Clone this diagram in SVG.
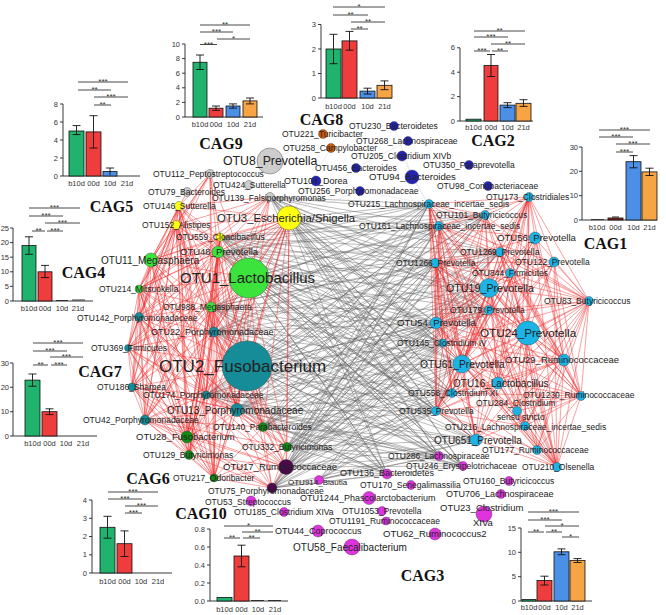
<svg xmlns="http://www.w3.org/2000/svg" width="666" height="615" viewBox="0 0 666 615">
<style>
.eg{fill:none;stroke:#626262;stroke-opacity:.55;stroke-width:.8;stroke-linecap:round}
.er{fill:none;stroke:#ee2626;stroke-opacity:.55;stroke-width:.8;stroke-linecap:round}
.el{fill:none;stroke:#9a9a9a;stroke-opacity:.35;stroke-width:.5}
circle{stroke:#3a3a3a;stroke-width:.4}
.c1{fill:#1cb4e6}.c2{fill:#2323b8}.c3{fill:#e033e0}.c4{fill:#3de33d}.c5{fill:#ffff10}
.c6{fill:#0f8c12}.c7{fill:#158c98}.c8{fill:#cc5a08}.c9{fill:#cdcdcd}.c10{fill:#4b0b4b}
text{font-family:"Liberation Sans",Arial,sans-serif;fill:#222}
.t{font-size:8.5px}
.ttl{font-family:"Liberation Serif","Times New Roman",serif;font-weight:bold;font-size:16px;fill:#111;text-anchor:middle}
.ax{fill:none;stroke:#222;stroke-width:.9}
.tk{font-size:7.5px;text-anchor:end;fill:#333}
.xl{font-size:7.5px;text-anchor:middle;fill:#333}
.st{font-size:8px;text-anchor:middle;fill:#333}
.sl{fill:none;stroke:#333;stroke-width:.9}
.eb{fill:none;stroke:#111;stroke-width:.9}
.bg{fill:#20b36e;stroke:#111;stroke-width:.8}
.br{fill:#ef3d3d;stroke:#111;stroke-width:.8}
.bb{fill:#4b8fe6;stroke:#111;stroke-width:.8}
.bo{fill:#f7a444;stroke:#111;stroke-width:.8}
</style>
<rect width="666" height="615" fill="#fff"/>
<g id="connectors">
<path class="el" d="M316 181L289 218M360 191L289 218M356 168L289 218M360 191L429 204M412 177L429 204M402 156L439 226M331 148L289 218M323 134L270 161M394 126L412 177M408 141L356 168"/>
<path class="eg" d="M289 218L429 204M289 218L439 226M289 218L485 215M289 218L435 263M289 218L500 252M289 218L436 323M289 218L443 343M289 218L462 364M289 218L452 393M289 218L436 411M289 218L476 440M289 218L489 288M289 218L489 310M289 218L439 456M289 218L463 466M289 218L387 474"/>
<path class="eg" d="M270 197L429 204M270 197L439 226M270 197L485 215M270 197L435 263M270 197L500 252M270 197L436 323M270 197L443 343M270 197L462 364M270 197L452 393M270 197L436 411M270 197L476 440M270 197L489 288M270 197L489 310M270 197L439 456M270 197L463 466M270 197L387 474"/>
<path class="eg" d="M249 278L429 204M249 278L439 226M249 278L485 215M249 278L435 263M249 278L500 252M249 278L436 323M249 278L443 343M249 278L462 364M249 278L452 393M249 278L436 411M249 278L476 440M249 278L489 288M249 278L489 310M249 278L439 456M249 278L463 466M249 278L387 474"/>
<path class="eg" d="M218 252L429 204M218 252L439 226M218 252L485 215M218 252L435 263M218 252L500 252M218 252L436 323M218 252L443 343M218 252L462 364M218 252L452 393M218 252L436 411M218 252L476 440M218 252L489 288M218 252L489 310M218 252L439 456M218 252L463 466M218 252L387 474"/>
<path class="eg" d="M220 237L429 204M220 237L439 226M220 237L485 215M220 237L435 263M220 237L500 252M220 237L436 323M220 237L443 343M220 237L462 364M220 237L452 393M220 237L436 411M220 237L476 440M220 237L489 288M220 237L489 310M220 237L439 456M220 237L463 466M220 237L387 474"/>
<path class="eg" d="M211 307L429 204M211 307L439 226M211 307L485 215M211 307L435 263M211 307L500 252M211 307L436 323M211 307L443 343M211 307L462 364M211 307L452 393M211 307L436 411M211 307L476 440M211 307L489 288M211 307L489 310M211 307L439 456M211 307L463 466M211 307L387 474"/>
<path class="eg" d="M214 332L429 204M214 332L439 226M214 332L485 215M214 332L435 263M214 332L500 252M214 332L436 323M214 332L443 343M214 332L462 364M214 332L452 393M214 332L436 411M214 332L476 440M214 332L489 288M214 332L489 310M214 332L439 456M214 332L463 466M214 332L387 474"/>
<path class="eg" d="M247 366L429 204M247 366L439 226M247 366L485 215M247 366L435 263M247 366L500 252M247 366L436 323M247 366L443 343M247 366L462 364M247 366L452 393M247 366L436 411M247 366L476 440M247 366L489 288M247 366L489 310M247 366L439 456M247 366L463 466M247 366L387 474"/>
<path class="eg" d="M206 395L429 204M206 395L439 226M206 395L485 215M206 395L435 263M206 395L500 252M206 395L436 323M206 395L443 343M206 395L462 364M206 395L452 393M206 395L436 411M206 395L476 440M206 395L489 288M206 395L489 310M206 395L439 456M206 395L463 466M206 395L387 474"/>
<path class="eg" d="M237 410L429 204M237 410L439 226M237 410L485 215M237 410L435 263M237 410L500 252M237 410L436 323M237 410L443 343M237 410L462 364M237 410L452 393M237 410L436 411M237 410L476 440M237 410L489 288M237 410L489 310M237 410L439 456M237 410L463 466M237 410L387 474"/>
<path class="eg" d="M263 427L429 204M263 427L439 226M263 427L485 215M263 427L435 263M263 427L500 252M263 427L436 323M263 427L443 343M263 427L462 364M263 427L452 393M263 427L436 411M263 427L476 440M263 427L489 288M263 427L489 310M263 427L439 456M263 427L463 466M263 427L387 474"/>
<path class="eg" d="M287 447L429 204M287 447L439 226M287 447L485 215M287 447L435 263M287 447L500 252M287 447L436 323M287 447L443 343M287 447L462 364M287 447L452 393M287 447L436 411M287 447L476 440M287 447L489 288M287 447L489 310M287 447L439 456M287 447L463 466M287 447L387 474"/>
<path class="eg" d="M286 467L429 204M286 467L439 226M286 467L485 215M286 467L435 263M286 467L500 252M286 467L436 323M286 467L443 343M286 467L462 364M286 467L452 393M286 467L436 411M286 467L476 440M286 467L489 288M286 467L489 310M286 467L439 456M286 467L463 466M286 467L387 474"/>
<path class="eg" d="M272 488L429 204M272 488L439 226M272 488L485 215M272 488L435 263M272 488L500 252M272 488L436 323M272 488L443 343M272 488L462 364M272 488L452 393M272 488L436 411M272 488L476 440M272 488L489 288M272 488L489 310M272 488L439 456M272 488L463 466M272 488L387 474"/>
<path class="eg" d="M319 480L436 411M319 480L452 393M319 480L462 364M319 480L476 440M319 480L443 343M319 480L436 323M319 480L439 456"/>
<path class="er" d="M289 218L179 206M289 218L176 225M289 218L220 237M289 218L218 252M289 218L151 260M289 218L249 278M289 218L139 289M289 218L211 307M289 218L139 317M289 218L214 332M289 218L128 348M289 218L247 366M289 218L132 387M289 218L206 395M289 218L237 410M289 218L145 420M289 218L263 427M289 218L187 437M289 218L287 447M289 218L189 455M289 218L214 478M289 218L286 467"/>
<path class="er" d="M249 278L179 206M249 278L176 225M249 278L220 237M249 278L218 252M249 278L151 260M249 278L139 289M249 278L211 307M249 278L139 317M249 278L214 332M249 278L128 348M249 278L247 366M249 278L132 387M249 278L206 395M249 278L237 410M249 278L145 420M249 278L263 427M249 278L187 437M249 278L287 447M249 278L189 455M249 278L214 478M249 278L270 197M249 278L210 174"/>
<path class="er" d="M247 366L179 206M247 366L176 225M247 366L220 237M247 366L218 252M247 366L151 260M247 366L139 289M247 366L211 307M247 366L139 317M247 366L214 332M247 366L128 348M247 366L132 387M247 366L206 395M247 366L237 410M247 366L145 420M247 366L263 427M247 366L187 437M247 366L287 447M247 366L189 455M247 366L214 478M247 366L286 467M247 366L272 488"/>
<path class="er" d="M151 260L179 206M151 260L176 225M151 260L220 237M151 260L218 252M151 260L139 289M151 260L211 307M151 260L139 317M151 260L214 332M151 260L128 348M151 260L132 387M151 260L206 395M151 260L237 410M151 260L145 420M151 260L187 437M151 260L189 455M151 260L214 478M151 260L210 174M151 260L187 192"/>
<path class="er" d="M179 206L176 225M179 206L220 237M179 206L218 252M179 206L139 289M179 206L211 307M179 206L139 317M179 206L214 332M179 206L128 348M179 206L132 387M179 206L206 395M179 206L237 410M179 206L145 420M179 206L187 437M179 206L189 455M179 206L214 478"/>
<path class="er" d="M176 225L220 237M176 225L218 252M176 225L139 289M176 225L211 307M176 225L139 317M176 225L214 332M176 225L128 348M176 225L132 387M176 225L206 395M176 225L237 410M176 225L145 420M176 225L187 437M176 225L189 455M176 225L214 478"/>
<path class="er" d="M218 252L220 237M218 252L139 289M218 252L211 307M218 252L139 317M218 252L214 332M218 252L128 348M218 252L132 387M218 252L206 395M218 252L237 410M218 252L145 420M218 252L263 427M218 252L187 437M218 252L189 455M218 252L214 478M218 252L270 197"/>
<path class="er" d="M220 237L139 289M220 237L211 307M220 237L139 317M220 237L214 332M220 237L128 348M220 237L132 387M220 237L206 395M220 237L237 410M220 237L145 420M220 237L187 437M220 237L189 455M220 237L214 478"/>
<path class="er" d="M139 289L211 307M139 289L139 317M139 289L214 332M139 289L128 348M139 289L132 387M139 289L206 395M139 289L237 410M139 289L145 420M139 289L187 437M139 289L189 455M139 289L214 478"/>
<path class="er" d="M139 317L211 307M139 317L214 332M139 317L128 348M139 317L132 387M139 317L206 395M139 317L237 410M139 317L145 420M139 317L187 437M139 317L189 455M139 317L214 478M139 317L263 427M139 317L287 447"/>
<path class="er" d="M214 332L211 307M214 332L128 348M214 332L132 387M214 332L206 395M214 332L237 410M214 332L145 420M214 332L263 427M214 332L187 437M214 332L287 447M214 332L189 455M214 332L214 478M214 332L286 467"/>
<path class="er" d="M211 307L128 348M211 307L132 387M211 307L206 395M211 307L237 410M211 307L145 420M211 307L263 427M211 307L187 437M211 307L287 447M211 307L189 455M211 307L214 478"/>
<path class="er" d="M128 348L132 387M128 348L206 395M128 348L237 410M128 348L145 420M128 348L187 437M128 348L189 455M128 348L214 478M132 387L206 395M132 387L237 410M132 387L145 420M132 387L187 437M132 387L189 455M132 387L214 478"/>
<path class="er" d="M145 420L206 395M145 420L237 410M145 420L187 437M145 420L189 455M145 420L214 478M145 420L263 427M145 420L287 447M145 420L286 467M145 420L272 488"/>
<path class="er" d="M214 478L206 395M214 478L237 410M214 478L263 427M214 478L187 437M214 478L287 447M214 478L189 455M214 478L286 467M214 478L272 488"/>
<path class="er" d="M270 197L179 206M270 197L176 225M270 197L220 237M270 197L151 260M270 197L139 289M270 197L211 307M270 197L214 332M270 197L237 410M210 174L179 206M210 174L176 225M210 174L220 237M210 174L218 252M210 174L139 289M210 174L211 307M210 174L139 317M210 174L214 332"/>
<path class="er" d="M286 467L206 395M286 467L237 410M286 467L263 427M286 467L187 437M286 467L189 455M286 467L287 447M286 467L272 488M286 467L132 387M286 467L128 348M272 488L206 395M272 488L237 410M272 488L263 427M272 488L187 437M272 488L189 455M272 488L287 447M272 488L132 387"/>
<path class="er" d="M237 410L206 395M237 410L263 427M237 410L187 437M237 410L287 447M237 410L189 455M237 410L132 387M206 395L263 427M206 395L187 437M206 395L287 447M206 395L189 455"/>
<path class="er" d="M589 301L529 197M589 301L485 215M589 301L535 238M589 301L500 252M589 301L435 263M589 301L554 262M589 301L510 273M589 301L489 288M589 301L489 310M589 301L436 323M589 301L528 333M589 301L443 343M589 301L462 364M589 301L564 360M589 301L498 383M589 301L452 393M589 301L581 396M589 301L517 411M589 301L525 426M589 301L476 440M589 301L537 450M589 301L557 467M589 301L439 226M589 301L429 204"/>
<path class="er" d="M529 197L429 204M529 197L485 215M529 197L439 226M529 197L535 238M529 197L500 252M529 197L435 263M529 197L554 262M529 197L510 273M529 197L489 288M529 197L489 310M529 197L436 323M529 197L528 333M529 197L443 343M529 197L462 364M529 197L564 360M529 197L498 383M529 197L452 393M529 197L436 411M529 197L517 411M529 197L525 426M529 197L476 440"/>
<path class="er" d="M557 467L485 215M557 467L439 226M557 467L535 238M557 467L500 252M557 467L435 263M557 467L554 262M557 467L510 273M557 467L489 288M557 467L489 310M557 467L436 323M557 467L528 333M557 467L443 343M557 467L462 364M557 467L564 360M557 467L498 383M557 467L452 393M557 467L581 396M557 467L517 411M557 467L436 411M557 467L525 426M557 467L476 440M557 467L537 450"/>
<path class="er" d="M528 333L429 204M528 333L485 215M528 333L439 226M528 333L535 238M528 333L500 252M528 333L435 263M528 333L554 262M528 333L510 273M528 333L489 288M528 333L489 310M528 333L436 323M528 333L443 343M528 333L462 364M528 333L564 360M528 333L498 383M528 333L452 393M528 333L581 396M528 333L517 411M528 333L436 411M528 333L525 426M528 333L476 440M528 333L537 450"/>
<path class="er" d="M489 288L429 204M489 288L485 215M489 288L439 226M489 288L535 238M489 288L500 252M489 288L435 263M489 288L554 262M489 288L510 273M489 288L489 310M489 288L436 323M489 288L443 343M489 288L462 364M489 288L564 360M489 288L498 383M489 288L452 393M489 288L581 396M489 288L517 411M489 288L436 411M489 288L525 426M489 288L476 440M489 288L537 450"/>
<path class="er" d="M462 364L429 204M462 364L485 215M462 364L439 226M462 364L535 238M462 364L500 252M462 364L435 263M462 364L554 262M462 364L510 273M462 364L489 310M462 364L436 323M462 364L443 343M462 364L564 360M462 364L498 383M462 364L452 393M462 364L581 396M462 364L517 411M462 364L436 411M462 364L525 426M462 364L476 440M462 364L537 450"/>
<path class="er" d="M564 360L485 215M564 360L439 226M564 360L535 238M564 360L500 252M564 360L435 263M564 360L554 262M564 360L510 273M564 360L489 310M564 360L436 323M564 360L443 343M564 360L498 383M564 360L452 393M564 360L581 396M564 360L517 411M564 360L436 411M564 360L525 426M564 360L476 440M564 360L537 450"/>
<path class="er" d="M435 263L429 204M435 263L485 215M435 263L439 226M435 263L535 238M435 263L500 252M435 263L554 262M435 263L510 273M435 263L489 310M435 263L436 323M435 263L443 343M435 263L498 383M435 263L452 393M435 263L436 411M435 263L525 426M435 263L476 440M435 263L581 396"/>
<path class="er" d="M436 323L429 204M436 323L485 215M436 323L439 226M436 323L535 238M436 323L500 252M436 323L554 262M436 323L510 273M436 323L489 310M436 323L443 343M436 323L498 383M436 323L452 393M436 323L436 411M436 323L525 426M436 323L476 440M436 323L581 396M436 323L537 450"/>
<path class="er" d="M429 204L439 226M429 204L485 215M429 204L535 238M429 204L443 343M429 204L436 411M429 204L452 393M429 204L498 383M429 204L476 440M429 204L525 426M439 226L485 215M439 226L535 238M439 226L500 252M439 226L554 262M439 226L443 343M439 226L436 411M439 226L452 393M439 226L498 383M439 226L476 440"/>
<path class="er" d="M581 396L535 238M581 396L554 262M581 396L485 215M581 396L500 252M581 396L510 273M581 396L489 310M581 396L498 383M581 396L452 393M581 396L517 411M581 396L436 411M581 396L525 426M581 396L476 440M581 396L537 450"/>
<path class="er" d="M498 383L535 238M498 383L554 262M498 383L485 215M498 383L510 273M498 383L452 393M498 383L436 411M498 383L476 440M498 383L537 450M498 383L525 426M436 411L485 215M436 411L535 238M436 411L554 262M436 411L510 273M436 411L489 310M436 411L443 343M436 411L452 393M436 411L476 440M436 411L537 450M436 411L525 426"/>
</g>
<g id="nodes">
<g id="otu8"><circle class="c9" cx="270" cy="161" r="13"/><text x="223" y="165.3" style="font-size:12.3px">OTU8_Prevotella</text></g>
<g id="otu112"><circle class="c9" cx="210" cy="174" r="4.5"/><text class="t" x="153" y="177">OTU112_Peptostreptococcus</text></g>
<g id="otu424"><circle class="c9" cx="249" cy="185" r="4.5"/><text class="t" x="213" y="188">OTU424_Sutterella</text></g>
<g id="otu79"><circle class="c9" cx="187" cy="192" r="4.5"/><text class="t" x="148" y="194.5">OTU79_Bacteroides</text></g>
<g id="otu139"><circle class="c9" cx="270" cy="197" r="4.5"/><text class="t" x="212" y="201">OTU139_Falsiporphyromonas</text></g>
<g id="otu3"><circle class="c5" cx="289" cy="218" r="12"/><text x="217" y="222" style="font-size:11.3px">OTU3_Escherichia/Shigella</text></g>
<g id="otu146"><circle class="c5" cx="179" cy="206" r="4.5"/><text class="t" x="143" y="209">OTU146_Sutterella</text></g>
<g id="otu152"><circle class="c5" cx="176" cy="225" r="4.5"/><text class="t" x="142" y="228">OTU152_Alistipes</text></g>
<g id="otu559"><circle class="c5" cx="220" cy="237" r="4"/><text class="t" x="176" y="240">OTU559_Cloacibacillus</text></g>
<g id="otu48"><circle class="c4" cx="218" cy="252" r="6"/><text x="180" y="255.3" style="font-size:9.5px">OTU48_Prevotella</text></g>
<g id="otu11"><circle class="c4" cx="151" cy="260" r="7"/><text x="101" y="263.5" style="font-size:10px">OTU11_Megasphaera</text></g>
<g id="otu1"><circle class="c4" cx="249" cy="278" r="20"/><text x="180" y="283.3" style="font-size:15px">OTU1_Lactobacillus</text></g>
<g id="otu214"><circle class="c4" cx="139" cy="289" r="4"/><text class="t" x="99" y="292">OTU214_Mitsuokella</text></g>
<g id="otu988"><circle class="c4" cx="211" cy="307" r="5"/><text class="t" x="163" y="310">OTU988_Megasphaera</text></g>
<g id="otu142"><circle class="c7" cx="139" cy="317" r="4.5"/><text class="t" x="77" y="320.5">OTU142_Porphyromonadaceae</text></g>
<g id="otu22"><circle class="c7" cx="214" cy="332" r="5"/><text x="151" y="335" style="font-size:9px">OTU22_Porphyromonadaceae</text></g>
<g id="otu369"><circle class="c7" cx="128" cy="348" r="3.5"/><text class="t" x="91" y="351">OTU369_Firmicutes</text></g>
<g id="otu2"><circle class="c7" cx="247" cy="366" r="25"/><text x="159" y="372" style="font-size:17px">OTU2_Fusobacterium</text></g>
<g id="otu186"><circle class="c7" cx="132" cy="387" r="4"/><text class="t" x="97" y="390">OTU186_Sharpea</text></g>
<g id="otu174"><circle class="c7" cx="206" cy="395" r="4"/><text class="t" x="143" y="398">OTU174_Porphyromonadaceae</text></g>
<g id="otu13"><circle class="c7" cx="237" cy="410" r="6.5"/><text x="167" y="413.5" style="font-size:10px">OTU13_Porphyromonadaceae</text></g>
<g id="otu42"><circle class="c7" cx="145" cy="420" r="5"/><text class="t" x="83" y="423">OTU42_Porphyromonadaceae</text></g>
<g id="otu140"><circle class="c6" cx="263" cy="427" r="4.5"/><text class="t" x="213" y="430">OTU140_Parabacteroides</text></g>
<g id="otu28"><circle class="c6" cx="187" cy="437" r="6"/><text x="136" y="440.3" style="font-size:9.5px">OTU28_Fusobacterium</text></g>
<g id="otu332"><circle class="c6" cx="287" cy="447" r="4.5"/><text class="t" x="242" y="450">OTU332_Butyricimonas</text></g>
<g id="otu129"><circle class="c6" cx="189" cy="455" r="4.5"/><text class="t" x="143" y="458">OTU129_Butyricimonas</text></g>
<g id="otu217"><circle class="c6" cx="214" cy="478" r="4"/><text class="t" x="173" y="481">OTU217_Odoribacter</text></g>
<g id="otu17"><circle class="c10" cx="286" cy="467" r="7.5"/><text x="223" y="470.3" style="font-size:9.5px">OTU17_Ruminococcaceae</text></g>
<g id="otu75"><circle class="c10" cx="272" cy="488" r="5"/><text class="t" x="208" y="494">OTU75_Porphyromonadaceae</text></g>
<g id="otu914"><circle class="c3" cx="319" cy="480" r="4.5"/><text x="288" y="484.5" style="font-size:8px">OTU914_Blautia</text></g>
<g id="otu53"><circle class="c3" cx="251" cy="501" r="5"/><text class="t" x="205" y="504.5">OTU53_Streptococcus</text></g>
<g id="otu185"><circle class="c3" cx="284" cy="512" r="4.5"/><text class="t" x="234" y="515">OTU185_Clostridium XIVa</text></g>
<g id="otu44"><circle class="c3" cx="318" cy="531" r="6"/><text x="275" y="534" style="font-size:9px">OTU44_Coprococcus</text></g>
<g id="otu58"><circle class="c3" cx="352" cy="547" r="8"/><text x="293" y="550.5" style="font-size:10px">OTU58_Faecalibacterium</text></g>
<g id="otu1244"><circle class="c3" cx="369" cy="498" r="6.5"/><text x="300" y="501" style="font-size:9px">OTU1244_Phascolarctobacterium</text></g>
<g id="otu136"><circle class="c3" cx="387" cy="474" r="5"/><text x="340" y="476" style="font-size:9px">OTU136_Bacteroidetes</text></g>
<g id="otu170"><circle class="c3" cx="411" cy="485" r="4.5"/><text class="t" x="360" y="488">OTU170_Senegalimassilia</text></g>
<g id="otu1053"><circle class="c3" cx="382" cy="511" r="4.5"/><text class="t" x="342" y="514">OTU1053_Prevotella</text></g>
<g id="otu1191"><circle class="c3" cx="386" cy="521" r="4"/><text class="t" x="329" y="524">OTU1191_Ruminococcaceae</text></g>
<g id="otu62"><circle class="c3" cx="435" cy="534" r="6"/><text x="383" y="537.3" style="font-size:9.5px">OTU62_Ruminococcus2</text></g>
<g id="otu23"><circle class="c3" cx="484" cy="514" r="8"/><text x="440" y="511.3" style="font-size:9.5px">OTU23_Clostridium</text><text x="473" y="526.3" style="font-size:9.5px">XIVa</text></g>
<g id="otu286"><circle class="c3" cx="439" cy="456" r="4.5"/><text class="t" x="388" y="459">OTU286_Lachnospiraceae</text></g>
<g id="otu246"><circle class="c3" cx="463" cy="466" r="4.5"/><text class="t" x="406" y="469">OTU246_Erysipelotrichaceae</text></g>
<g id="otu160"><circle class="c3" cx="509" cy="481" r="4.5"/><text class="t" x="463" y="484">OTU160_Butyricicoccus</text></g>
<g id="otu706"><circle class="c3" cx="501" cy="494" r="4.5"/><text x="446" y="497" style="font-size:9px">OTU706_Lachnospiraceae</text></g>
<g id="otu535"><circle class="c1" cx="436" cy="411" r="4.5"/><text class="t" x="399" y="414">OTU535_Prevotella</text></g>
<g id="otu284"><circle class="c1" cx="517" cy="411" r="4.5"/><text class="t" x="476" y="406">OTU284_Clostridium</text><text class="t" x="497" y="419.5">sensu stricto</text></g>
<g id="otu216"><circle class="c1" cx="525" cy="426" r="4.5"/><text class="t" x="445" y="430">OTU216_Lachnospiraceae_incertae_sedis</text></g>
<g id="otu651"><circle class="c1" cx="476" cy="440" r="6"/><text x="434" y="443.5" style="font-size:10px">OTU651_Prevotella</text></g>
<g id="otu177"><circle class="c1" cx="537" cy="450" r="4.5"/><text class="t" x="482" y="453">OTU177_Ruminococcaceae</text></g>
<g id="otu210"><circle class="c1" cx="557" cy="467" r="4.5"/><text class="t" x="522" y="470">OTU210_Olsenella</text></g>
<g id="otu558"><circle class="c1" cx="452" cy="393" r="4.5"/><text class="t" x="408" y="396">OTU558_Clostridium XI</text></g>
<g id="otu16"><circle class="c1" cx="498" cy="383" r="6"/><text x="453" y="386.5" style="font-size:10px">OTU16_Lactobacillus</text></g>
<g id="otu1230"><circle class="c1" cx="581" cy="396" r="4.5"/><text class="t" x="523" y="398">OTU1230_Ruminococcaceae</text></g>
<g id="otu61"><circle class="c1" cx="462" cy="364" r="9"/><text x="420" y="367.6" style="font-size:10.3px">OTU61_Prevotella</text></g>
<g id="otu29"><circle class="c1" cx="564" cy="360" r="6"/><text x="505" y="363.3" style="font-size:9.5px">OTU29_Ruminococcaceae</text></g>
<g id="otu145"><circle class="c1" cx="443" cy="343" r="4"/><text class="t" x="397" y="346">OTU145_Clostridium IV</text></g>
<g id="otu24"><circle class="c1" cx="528" cy="333" r="12"/><text x="480" y="337.1" style="font-size:11.7px">OTU24_Prevotella</text></g>
<g id="otu54"><circle class="c1" cx="436" cy="323" r="6"/><text x="397" y="326.4" style="font-size:9.6px">OTU54_Prevotella</text></g>
<g id="otu179"><circle class="c1" cx="489" cy="310" r="4.5"/><text class="t" x="450" y="313">OTU179_Prevotella</text></g>
<g id="otu83"><circle class="c1" cx="589" cy="301" r="4.5"/><text class="t" x="544" y="304">OTU83_Butyricicoccus</text></g>
<g id="otu19"><circle class="c1" cx="489" cy="288" r="9.5"/><text x="446" y="291.7" style="font-size:10.7px">OTU19_Prevotella</text></g>
<g id="otu844"><circle class="c1" cx="510" cy="273" r="4.5"/><text class="t" x="472" y="276">OTU844_Firmicutes</text></g>
<g id="otu1266"><circle class="c1" cx="435" cy="263" r="4.5"/><text class="t" x="396" y="266">OTU1266_Prevotella</text></g>
<g id="otu122"><circle class="c1" cx="554" cy="262" r="5"/><text class="t" x="515" y="265">OTU122_Prevotella</text></g>
<g id="otu1269"><circle class="c1" cx="500" cy="252" r="4.5"/><text class="t" x="460" y="255">OTU1269_Prevotella</text></g>
<g id="otu56"><circle class="c1" cx="535" cy="238" r="6"/><text x="497" y="241.4" style="font-size:9.6px">OTU56_Prevotella</text></g>
<g id="otu161"><circle class="c1" cx="439" cy="226" r="4.5"/><text class="t" x="359" y="229">OTU161_Lachnospiraceae_incertae_sedis</text></g>
<g id="otu101"><circle class="c1" cx="485" cy="215" r="4.5"/><text class="t" x="436" y="218">OTU101_Butyricicoccus</text></g>
<g id="otu215"><circle class="c1" cx="429" cy="204" r="4.5"/><text class="t" x="348" y="207">OTU215_Lachnospiraceae_incertae_sedis</text></g>
<g id="otu173"><circle class="c1" cx="529" cy="197" r="4.5"/><text class="t" x="486" y="200">OTU173_Clostridiales</text></g>
<g id="otu98"><circle class="c2" cx="488" cy="186" r="4.5"/><text class="t" x="437" y="189">OTU98_Coriobacteriaceae</text></g>
<g id="otu350"><circle class="c2" cx="469" cy="165" r="4.5"/><text class="t" x="423" y="168">OTU350_Paraprevotella</text></g>
<g id="otu94"><circle class="c2" cx="412" cy="177" r="7"/><text x="369" y="180.4" style="font-size:9.6px">OTU94_Bacteroides</text></g>
<g id="otu205"><circle class="c2" cx="402" cy="156" r="5"/><text class="t" x="351" y="159">OTU205_Clostridium XIVb</text></g>
<g id="otu268"><circle class="c2" cx="408" cy="141" r="4.5"/><text class="t" x="356" y="144">OTU268_Lachnospiraceae</text></g>
<g id="otu230"><circle class="c2" cx="394" cy="126" r="4.5"/><text class="t" x="349" y="129">OTU230_Bacteroidetes</text></g>
<g id="otu456"><circle class="c2" cx="356" cy="168" r="4.5"/><text class="t" x="315" y="171">OTU456_Bacteroides</text></g>
<g id="otu104"><circle class="c2" cx="316" cy="181" r="5"/><text x="284" y="184" style="font-size:9px">OTU104_Dorea</text></g>
<g id="otu256"><circle class="c2" cx="360" cy="191" r="4.5"/><text class="t" x="298" y="194">OTU256_Porphyromonadaceae</text></g>
<g id="otu221"><circle class="c8" cx="323" cy="134" r="4.5"/><text class="t" x="282" y="137">OTU221_Turicibacter</text></g>
<g id="otu258"><circle class="c8" cx="331" cy="148" r="4.5"/><text class="t" x="283" y="151">OTU258_Campylobacter</text></g>
</g>
<g id="chart-CAG9">
<path class="ax" d="M182 44H185V117H263M182 58.6H185M182 73.2H185M182 87.8H185M182 102.4H185M182 117H185"/>
<text class="tk" x="180" y="46.5">10</text><text class="tk" x="180" y="61.1">8</text><text class="tk" x="180" y="75.7">6</text><text class="tk" x="180" y="90.3">4</text><text class="tk" x="180" y="104.9">2</text><text class="tk" x="180" y="119.5">0</text>
<rect class="bg" x="193" y="62.25" width="14" height="54.75"/><rect class="br" x="209" y="108.2" width="14" height="8.8"/><rect class="bb" x="226" y="106" width="14" height="11"/><rect class="bo" x="243" y="100.9" width="14" height="16.1"/>
<path class="eb" d="M200 55V69.5M196 55H204M196 69.5H204M216 106V110.4M212 106H220M212 110.4H220M233 103.9V108.2M229 103.9H237M229 108.2H237M250 98V103.9M246 98H254M246 103.9H254"/>
<text class="xl" x="200" y="127">b10d</text><text class="xl" x="216" y="127">00d</text><text class="xl" x="233" y="127">10d</text><text class="xl" x="250" y="127">21d</text>
<path class="sl" d="M200 25H250M200 32H233M200 44.5H217M217 39H250"/>
<text class="st" x="225" y="27">**</text><text class="st" x="216.5" y="34">***</text><text class="st" x="208.5" y="46.5">***</text><text class="st" x="233.5" y="41">*</text>
<text class="ttl" x="221" y="149">CAG9</text>
</g>
<g id="chart-CAG5">
<path class="ax" d="M60 104H63V176H140M60 122H63M60 140H63M60 158H63M60 176H63"/>
<text class="tk" x="58" y="106.5">8</text><text class="tk" x="58" y="124.5">6</text><text class="tk" x="58" y="142.5">4</text><text class="tk" x="58" y="160.5">2</text><text class="tk" x="58" y="178.5">0</text>
<rect class="bg" x="69" y="131" width="15" height="45"/><rect class="br" x="86" y="131.9" width="15" height="44.1"/><rect class="bb" x="103" y="171.5" width="14" height="4.5"/>
<path class="eb" d="M76.5 125.6V134.6M72.5 125.6H80.5M72.5 134.6H80.5M93.5 115.7V148M89.5 115.7H97.5M89.5 148H97.5M110 168V175M106 168H114"/>
<text class="xl" x="76.5" y="186">b10d</text><text class="xl" x="93.5" y="186">00d</text><text class="xl" x="110" y="186">10d</text><text class="xl" x="127" y="186">21d</text>
<path class="sl" d="M78 82H128M78 90H111M94 97H128M94 105H111"/>
<text class="st" x="103" y="84">***</text><text class="st" x="94.5" y="92">**</text><text class="st" x="111" y="99">***</text><text class="st" x="102.5" y="107">**</text>
<text class="ttl" x="111.5" y="212">CAG5</text>
</g>
<g id="chart-CAG4">
<path class="ax" d="M10 228H13V301H93M10 242.6H13M10 257.2H13M10 271.8H13M10 286.4H13M10 301H13M56 300.5H68M72 300H85"/>
<text class="tk" x="9" y="230.5">25</text><text class="tk" x="9" y="245.1">20</text><text class="tk" x="9" y="259.7">15</text><text class="tk" x="9" y="274.3">10</text><text class="tk" x="9" y="288.9">5</text><text class="tk" x="9" y="303.5">0</text>
<rect class="bg" x="22" y="245.5" width="14" height="55.5"/><rect class="br" x="38" y="271.8" width="14" height="29.2"/>
<path class="eb" d="M29 236.8V254.3M25 236.8H33M25 254.3H33M45 265.4V277.6M41 265.4H49M41 277.6H49"/>
<text class="xl" x="29" y="310.5">b10d</text><text class="xl" x="45" y="310.5">00d</text><text class="xl" x="62" y="310.5">10d</text><text class="xl" x="78" y="310.5">21d</text>
<path class="sl" d="M29 208H80M29 216H63M45 223H80M32 231H45M47 231H63"/>
<text class="st" x="54.5" y="210">***</text><text class="st" x="46" y="218">***</text><text class="st" x="62.5" y="225">***</text><text class="st" x="38.5" y="233">**</text><text class="st" x="55" y="233">***</text>
<text class="ttl" x="83.5" y="278">CAG4</text>
</g>
<g id="chart-CAG7">
<path class="ax" d="M10 363H13V436H97M10 387.3H13M10 411.7H13M10 436H13"/>
<text class="tk" x="9" y="365.5">30</text><text class="tk" x="9" y="389.8">20</text><text class="tk" x="9" y="414.2">10</text><text class="tk" x="9" y="438.5">0</text>
<rect class="bg" x="25" y="380.1" width="15" height="55.9"/><rect class="br" x="42" y="411.7" width="15" height="24.3"/>
<path class="eb" d="M32.5 374V386.2M28.5 374H36.5M28.5 386.2H36.5M49.5 408.8V414.6M45.5 408.8H53.5M45.5 414.6H53.5"/>
<text class="xl" x="32.5" y="446">b10d</text><text class="xl" x="49.5" y="446">00d</text><text class="xl" x="66" y="446">10d</text><text class="xl" x="83" y="446">21d</text>
<path class="sl" d="M33 343H83M33 351H67M50 357H83M33 365H48M51 365H67"/>
<text class="st" x="58" y="345">***</text><text class="st" x="50" y="353">***</text><text class="st" x="66.5" y="359">***</text><text class="st" x="40.5" y="367">**</text><text class="st" x="59" y="367">***</text>
<text class="ttl" x="100" y="377">CAG7</text>
</g>
<g id="chart-CAG6">
<path class="ax" d="M89 500H92V573H172M89 518.3H92M89 536.5H92M89 554.8H92M89 573H92"/>
<text class="tk" x="87" y="502.5">4</text><text class="tk" x="87" y="520.8">3</text><text class="tk" x="87" y="539">2</text><text class="tk" x="87" y="557.3">1</text><text class="tk" x="87" y="575.5">0</text>
<rect class="bg" x="100" y="527.3" width="15" height="45.7"/><rect class="br" x="117" y="543.7" width="15" height="29.3"/>
<path class="eb" d="M107.5 516.3V538.2M103.5 516.3H111.5M103.5 538.2H111.5M124.5 530.9V556.5M120.5 530.9H128.5M120.5 556.5H128.5"/>
<text class="xl" x="107.5" y="584">b10d</text><text class="xl" x="124.5" y="584">00d</text><text class="xl" x="141" y="584">10d</text><text class="xl" x="158" y="584">21d</text>
<path class="sl" d="M108 492H158M108 499H142M125 506H158M125 513H142"/>
<text class="st" x="133" y="494">***</text><text class="st" x="125" y="501">***</text><text class="st" x="141.5" y="508">***</text><text class="st" x="133.5" y="515">***</text>
<text class="ttl" x="148" y="484">CAG6</text>
</g>
<g id="chart-CAG10">
<path class="ax" d="M207 529H210V601H288M207 547H210M207 565H210M207 583H210M207 601H210M251 600.5H264M268 600.5H281"/>
<text class="tk" x="205" y="531.5">0.8</text><text class="tk" x="205" y="549.5">0.6</text><text class="tk" x="205" y="567.5">0.4</text><text class="tk" x="205" y="585.5">0.2</text><text class="tk" x="205" y="603.5">0.0</text>
<rect class="bg" x="217" y="597.4" width="15" height="3.6"/><rect class="br" x="234" y="556" width="15" height="45"/>
<path class="eb" d="M241.5 545.2V566.8M237.5 545.2H245.5M237.5 566.8H245.5"/>
<text class="xl" x="224.5" y="612">b10d</text><text class="xl" x="241.5" y="612">00d</text><text class="xl" x="258" y="612">10d</text><text class="xl" x="275" y="612">21d</text>
<path class="sl" d="M224 526H273M242 532H273M224 538H240M243 538H260"/>
<text class="st" x="248.5" y="528">*</text><text class="st" x="257.5" y="534">**</text><text class="st" x="232" y="540">**</text><text class="st" x="251.5" y="540">**</text>
<text class="ttl" x="201" y="519">CAG10</text>
</g>
<g id="chart-CAG3">
<path class="ax" d="M518 528H521V601H592M518 552.3H521M518 576.7H521M518 601H521"/>
<text class="tk" x="516" y="530.5">15</text><text class="tk" x="516" y="554.8">10</text><text class="tk" x="516" y="579.2">5</text><text class="tk" x="516" y="603.5">0</text>
<rect class="bg" x="522" y="599.5" width="14" height="1.5"/><rect class="br" x="537" y="580.5" width="15" height="20.5"/><rect class="bb" x="554" y="551.8" width="15" height="49.2"/><rect class="bo" x="570" y="560.6" width="15" height="40.4"/>
<path class="eb" d="M544.5 576.2V585M540.5 576.2H548.5M540.5 585H548.5M561.5 548.9V554.7M557.5 548.9H565.5M557.5 554.7H565.5M577.5 558.6V562.5M573.5 558.6H581.5M573.5 562.5H581.5"/>
<text class="xl" x="529" y="610">b10d</text><text class="xl" x="544.5" y="610">00d</text><text class="xl" x="561.5" y="610">10d</text><text class="xl" x="577.5" y="610">21d</text>
<path class="sl" d="M528 512H579M528 520H562M545 526H579M528 532H544M546 532H562M562 537H579"/>
<text class="st" x="553.5" y="514">***</text><text class="st" x="545" y="522">***</text><text class="st" x="562" y="528">*</text><text class="st" x="536" y="534">**</text><text class="st" x="554" y="534">**</text><text class="st" x="570.5" y="539">*</text>
<text class="ttl" x="422.5" y="581">CAG3</text>
</g>
<g id="chart-CAG8">
<path class="ax" d="M318 24.5H321V98H392M318 49H321M318 73.5H321M318 98H321"/>
<text class="tk" x="316" y="27">3</text><text class="tk" x="316" y="51.5">2</text><text class="tk" x="316" y="76">1</text><text class="tk" x="316" y="100.5">0</text>
<rect class="bg" x="326" y="49" width="15" height="49"/><rect class="br" x="342" y="40.9" width="15" height="57.1"/><rect class="bb" x="360" y="91.1" width="15" height="6.9"/><rect class="bo" x="377" y="85.3" width="15" height="12.7"/>
<path class="eb" d="M333.5 34.3V63.7M329.5 34.3H337.5M329.5 63.7H337.5M349.5 31.4V50.2M345.5 31.4H353.5M345.5 50.2H353.5M367.5 88.2V94M363.5 88.2H371.5M363.5 94H371.5M384.5 80.9V89.7M380.5 80.9H388.5M380.5 89.7H388.5"/>
<text class="xl" x="333.5" y="109">b10d</text><text class="xl" x="349.5" y="109">00d</text><text class="xl" x="367.5" y="109">10d</text><text class="xl" x="384.5" y="109">21d</text>
<path class="sl" d="M333 7H385M333 15H368M351 22H385M351 29H368"/>
<text class="st" x="359" y="9">*</text><text class="st" x="350.5" y="17">**</text><text class="st" x="368" y="24">**</text><text class="st" x="359.5" y="31">**</text>
<text class="ttl" x="321.5" y="125">CAG8</text>
</g>
<g id="chart-CAG2">
<path class="ax" d="M457 47.8H460V121H533M457 72.2H460M457 96.6H460M457 121H460"/>
<text class="tk" x="455" y="50.3">6</text><text class="tk" x="455" y="74.7">4</text><text class="tk" x="455" y="99.1">2</text><text class="tk" x="455" y="123.5">0</text>
<rect class="bg" x="466" y="119.2" width="15" height="1.8"/><rect class="br" x="484" y="65.5" width="14" height="55.5"/><rect class="bb" x="500" y="105.1" width="15" height="15.9"/><rect class="bo" x="516" y="103.3" width="15" height="17.7"/>
<path class="eb" d="M491 54.5V76.5M487 54.5H495M487 76.5H495M507.5 102.7V107.6M503.5 102.7H511.5M503.5 107.6H511.5M523.5 99.7V106.4M519.5 99.7H527.5M519.5 106.4H527.5"/>
<text class="xl" x="473.5" y="130">b10d</text><text class="xl" x="491" y="130">00d</text><text class="xl" x="507.5" y="130">10d</text><text class="xl" x="523.5" y="130">21d</text>
<path class="sl" d="M474 31H525M474 37H508M491 44H525M474 51H490M492 51H508"/>
<text class="st" x="499.5" y="33">**</text><text class="st" x="491" y="39">***</text><text class="st" x="508" y="46">**</text><text class="st" x="482" y="53">***</text><text class="st" x="500" y="53">**</text>
<text class="ttl" x="493" y="146">CAG2</text>
</g>
<g id="chart-CAG1">
<path class="ax" d="M579 147H582V220H657M579 171.3H582M579 195.7H582M579 220H582M591 219.6H604"/>
<text class="tk" x="578" y="149.5">30</text><text class="tk" x="578" y="173.8">20</text><text class="tk" x="578" y="198.2">10</text><text class="tk" x="578" y="222.5">0</text>
<rect class="br" x="608" y="218" width="15" height="2" style="fill:#8a2a1a"/><rect class="bb" x="626" y="161.7" width="15" height="58.3"/><rect class="bo" x="642" y="171.9" width="15" height="48.1"/>
<path class="eb" d="M612 217H619M633.5 155.6V167.8M629.5 155.6H637.5M629.5 167.8H637.5M649.5 168.2V175.5M645.5 168.2H653.5M645.5 175.5H653.5"/>
<text class="xl" x="597" y="230">b10d</text><text class="xl" x="615.5" y="230">00d</text><text class="xl" x="633.5" y="230">10d</text><text class="xl" x="649.5" y="230">21d</text>
<path class="sl" d="M599 130H650M599 137H633M616 144H650M616 152H633"/>
<text class="st" x="624.5" y="132">***</text><text class="st" x="616" y="139">***</text><text class="st" x="633" y="146">***</text><text class="st" x="624.5" y="154">***</text>
<text class="ttl" x="605.5" y="249">CAG1</text>
</g>
</svg>
